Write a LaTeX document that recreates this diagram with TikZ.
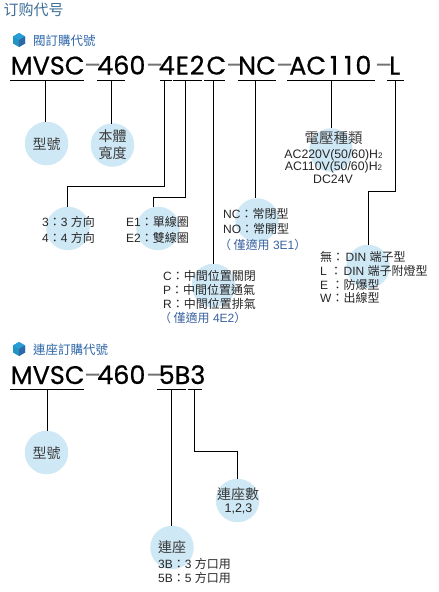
\documentclass[tikz,border=0pt]{standalone}
\usepackage{fontspec}
\setmainfont{Liberation Sans}
\newfontfamily\cjt{Noto Sans CJK TC}
\newfontfamily\cjs{Noto Sans CJK SC}
\newfontfamily\pop[FakeBold=0.6]{Poppins}
\newfontfamily\popd{Poppins}
\definecolor{bub}{HTML}{CFE8F5}
\definecolor{ttl}{HTML}{3E6E96}
\definecolor{hd}{HTML}{2F68A8}
\definecolor{note}{HTML}{3A62A0}
\definecolor{cjkg}{HTML}{3C3C3C}
\newcommand{\Z}[1]{{\cjt #1}}
\tikzset{
  x=1pt,y=-1pt,
  bubble/.style={circle,fill=bub,draw=none,minimum size=43.5pt,inner sep=0pt},
  partcode/.style={inner sep=0pt,anchor=base west,font=\pop\fontsize{25.5}{26}\selectfont},
  dashcode/.style={inner sep=0pt,anchor=base west,font=\popd\fontsize{25.5}{26}\selectfont,text=black!55},
  bigcjk/.style={inner sep=0pt,font=\cjt\fontsize{14}{16}\selectfont,text=cjkg},
  info/.style={inner sep=0pt,anchor=west,font=\fontsize{12}{13}\selectfont,text=black!85},
  infoc/.style={inner sep=0pt,font=\fontsize{12.3}{13}\selectfont,text=black!85},
  noteline/.style={info,text=note},
  head/.style={inner sep=0pt,anchor=west,font=\cjt\fontsize{12.5}{14}\selectfont,text=hd},
  rule/.style={line width=0.9pt,black},
  lead/.style={line width=0.9pt,black},
}
\newcommand{\cube}[2]{%
  \fill[hd!70!cyan] (#1,#2-7) -- (#1+6,#2-3.5) -- (#1+6,#2+3.5) -- (#1,#2+7) -- (#1-6,#2+3.5) -- (#1-6,#2-3.5) -- cycle;
  \fill[cyan!70!hd] (#1,#2-7) -- (#1+6,#2-3.5) -- (#1,#2) -- (#1-6,#2-3.5) -- cycle;
  \fill[hd] (#1,#2) -- (#1+6,#2-3.5) -- (#1+6,#2+3.5) -- (#1,#2+7) -- cycle;}
\begin{document}
\begin{tikzpicture}
\useasboundingbox (0,0) rectangle (439,592);
\fill[white] (0,0) rectangle (439,592);
% bubbles
\node[bubble] (b1) at (46.5,143.5) {};
\node[bubble] (b2) at (112.5,145) {};
\node[bubble] (b3) at (68,228.5) {};
\node[bubble] (b4) at (158,228.5) {};
\node[bubble] (b5) at (213.5,285.5) {};
\node[bubble] (b6) at (257,220) {};
\node[bubble] (b7) at (331,150) {};
\node[bubble] (b8) at (368,266.5) {};
\node[bubble] (d1) at (46.5,452.5) {};
\node[bubble] (d2) at (172,547.5) {};
\node[bubble] (d3) at (237.5,500.5) {};
% title
\node[inner sep=0pt,anchor=west,font=\cjs\fontsize{15}{16}\selectfont,text=ttl] (title) at (3.5,10) {订购代号};
\cube{19}{40}
\node[head] (h1) at (33,40.5) {閥訂購代號};
% first code
\node[partcode] (p1) at (10.5,74.5) {MVSC};
\node[dashcode] (p2) at (84,74.5) {–};
\node[partcode] (p3) at (97,74.5) {460};
\node[dashcode] (p4) at (146,74.5) {–};
\node[partcode] (p5) at (158.5,74.5) {4\kern1pt E\kern1pt 2\kern2pt C};
\node[dashcode] (p6) at (226,74.5) {–};
\node[partcode] (p7) at (238,74.5) {NC};
\node[dashcode] (p8) at (276,74.5) {–};
\node[partcode] (p9) at (289,74.5) {AC\kern4pt 1\kern6pt 1\kern3pt 0};
\node[dashcode] (p10) at (375,74.5) {–};
\node[partcode] (p11) at (389,74.5) {L};
% underlines
\draw[rule] (10,80) -- (84,80);
\draw[rule] (97,80) -- (125,80);
\draw[rule] (160,80) -- (172,80);
\draw[rule] (173,80) -- (202,80);
\draw[rule] (204,80) -- (225,80);
\draw[rule] (238,80) -- (276,80);
\draw[rule] (287,80) -- (375,80);
\draw[rule] (387,80) -- (404,80);
\coordinate (u1) at (45.5,80);
\coordinate (u2) at (111.5,80);
\coordinate (u3) at (164.5,80);
\coordinate (u4) at (185.5,80);
\coordinate (u5) at (213.5,80);
\coordinate (u6) at (255,80);
\coordinate (u7) at (331,80);
\coordinate (u8) at (395.5,80);
\coordinate (j3) at (67,186);
\coordinate (e3) at (67,207);
\coordinate (j4) at (153.5,197);
\coordinate (e4) at (153.5,207);
\coordinate (j8) at (368,191);
\coordinate (e8) at (368,245);
\coordinate (e1) at (45.5,122);
\coordinate (e2) at (111.5,124);
\coordinate (e5) at (213.5,264);
\coordinate (e6) at (255,198);
\coordinate (e7) at (331,128);
\draw[lead] (u1) -- (e1);
\draw[lead] (u2) -- (e2);
\draw[lead] (u3) |- (j3) -- (e3);
\draw[lead] (u4) |- (j4) -- (e4);
\draw[lead] (u5) -- (e5);
\draw[lead] (u6) -- (e6);
\draw[lead] (u7) -- (e7);
\draw[lead] (u8) |- (j8) -- (e8);
% bubble labels
\node[bigcjk] (t1) at (46.5,144) {型號};
\node[bigcjk,align=center] (t2) at (112.5,145) {本體\\[1pt]寬度};
\node[bigcjk] (t7) at (333.5,138) {\fontsize{14.5}{16}\selectfont 電壓種類};
\node[infoc] (v1) at (333.5,155) {AC220V(50/60)H{\fontsize{8}{9}\selectfont 2}};
\node[infoc] (v2) at (333.5,167) {AC110V(50/60)H{\fontsize{8}{9}\selectfont 2}};
\node[infoc] (v3) at (333,179) {DC24V};
\node[info] (a1) at (42,222) {3\Z{：}3 \Z{方向}};
\node[info] (a2) at (42,238) {4\Z{：}4 \Z{方向}};
\node[info] (c1) at (126,222) {E1\Z{：單線圈}};
\node[info] (c2) at (126,238) {E2\Z{：雙線圈}};
\node[info] (n1) at (223,214) {NC\Z{：常閉型}};
\node[info] (n2) at (223,229) {NO\Z{：常開型}};
\node[noteline] (n3) at (219,245) {\Z{（}\kern2.5pt\Z{僅適用} 3E1\Z{）}};
\node[info] (m1) at (163,276) {C\Z{：中間位置關閉}};
\node[info] (m2) at (163,290) {P\Z{：中間位置通氣}};
\node[info] (m3) at (163,304) {R\Z{：中間位置排氣}};
\node[noteline] (m4) at (159,318) {\Z{（}\kern2.5pt\Z{僅適用} 4E2\Z{）}};
\node[info] (l1) at (320,257) {\Z{無：}\kern1.5pt DIN \Z{端子型}};
\node[info] (l2) at (320,270.5) {L \Z{：}\kern1.5pt DIN \Z{端子附燈型}};
\node[info] (l3) at (320,285) {E \Z{：防爆型}};
\node[info] (l4) at (320,298) {W\Z{：出線型}};
% second code
\cube{19}{349}
\node[head] (h2) at (33,349.5) {連座訂購代號};
\node[partcode] (q1) at (10.5,384) {MVSC};
\node[dashcode] (q2) at (84,384) {–};
\node[partcode] (q3) at (97,384) {460};
\node[dashcode] (q4) at (146,384) {–};
\node[partcode] (q5) at (158.5,384) {5B3};
\draw[rule] (10,389) -- (84,389);
\draw[rule] (157,389) -- (186,389);
\draw[rule] (188,389) -- (202,389);
\coordinate (w1) at (47.5,389);
\coordinate (w2) at (171.5,389);
\coordinate (w3) at (194.5,389);
\coordinate (f1) at (47.5,431);
\coordinate (f2) at (171.5,526);
\coordinate (k3) at (237.5,451);
\coordinate (f3) at (237.5,479);
\draw[lead] (w1) -- (f1);
\draw[lead] (w2) -- (f2);
\draw[lead] (w3) |- (k3) -- (f3);
\node[bigcjk] (s1) at (46.5,453) {型號};
\node[bigcjk] (s3) at (238,494.5) {連座數};
\node[infoc,font=\fontsize{12.5}{14}\selectfont] (s4) at (238.5,509) {1,2,3};
\node[bigcjk] (s2) at (172,547.5) {連座};
\node[info] (s5) at (158,563.5) {3B\Z{：}3 \Z{方口用}};
\node[info] (s6) at (158,577.5) {5B\Z{：}5 \Z{方口用}};
\end{tikzpicture}
\end{document}
